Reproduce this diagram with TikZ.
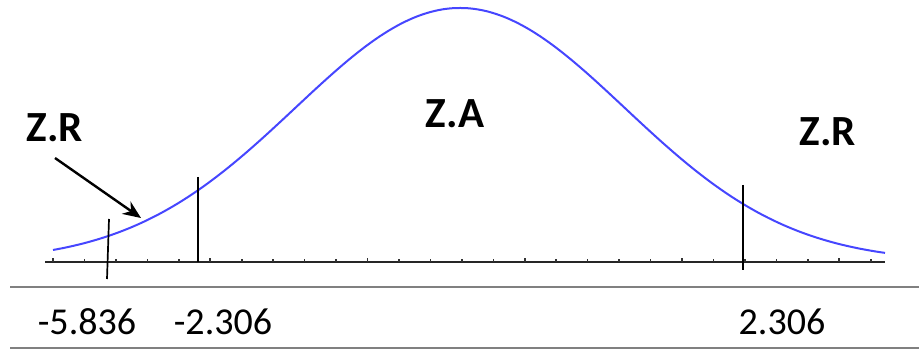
\documentclass[tikz,border=0pt]{standalone}
\usepackage{fontspec}
\setmainfont{Carlito}
\usetikzlibrary{arrows.meta}
\definecolor{curveblue}{HTML}{4646FF}
\definecolor{rulegray}{HTML}{808080}
\tikzset{
  lbl/.style={font=\fontsize{43}{43}\selectfont\bfseries, inner sep=0pt, anchor=center},
  num/.style={font=\fontsize{38}{38}\selectfont, inner sep=0pt, anchor=center},
  cut/.style={line width=1.7pt, black},
  axisline/.style={line width=1.6pt, black!85},
  rule/.style={line width=2.8pt, rulegray},
  bell/.style={line width=2pt, curveblue},
  tick/.style={line width=1.6pt, black!80},
  pointer/.style={line width=2.4pt, black, -{Stealth[length=18pt,width=15pt]}}
}
\begin{document}
\begin{tikzpicture}[x=1pt,y=-1pt]
\useasboundingbox (0,0) rectangle (919,350);
% rules
\coordinate (r1a) at (10,287); \coordinate (r1b) at (919,287);
\coordinate (r2a) at (10,348); \coordinate (r2b) at (919,348);
\draw[rule] (r1a) -- (r1b);
\draw[rule] (r2a) -- (r2b);
% axis
\coordinate (axL) at (45,262); \coordinate (axR) at (885,262);
\draw[axisline] (axL) -- (axR);
\foreach \i in {0,...,26}{
  \pgfmathsetmacro{\tx}{53+31.45*\i}
  \pgfmathsetmacro{\th}{ifthenelse(mod(\i,5)==0,4,3)}
  \draw[tick] (\tx,262) -- (\tx,262-\th);
}
% curve
\draw[bell] plot[domain=53:885, samples=150, smooth] (\x,{262-254*exp(-((\x-460)/233)^2)});
% cut lines
\coordinate (c1t) at (109,219); \coordinate (c1b) at (107,279);
\coordinate (c2t) at (198,177); \coordinate (c2b) at (198,262);
\coordinate (c3t) at (743,185); \coordinate (c3b) at (743,270);
\draw[cut] (c1t) -- (c1b);
\draw[cut] (c2t) -- (c2b);
\draw[cut] (c3t) -- (c3b);
% labels
\node[lbl] (zrl) at (55,128) {Z.R};
\node[lbl] (za) at (455,114) {Z.A};
\node[lbl] (zrr) at (828,132) {Z.R};
\coordinate (ps) at (55,158); \coordinate (pe) at (141,218);
\draw[pointer] (ps) -- (pe);
% numbers
\node[num] (n1) at (87,322) {-5.836};
\node[num] (n2) at (223,322) {-2.306};
\node[num] (n3) at (782,322) {2.306};
\end{tikzpicture}
\end{document}
